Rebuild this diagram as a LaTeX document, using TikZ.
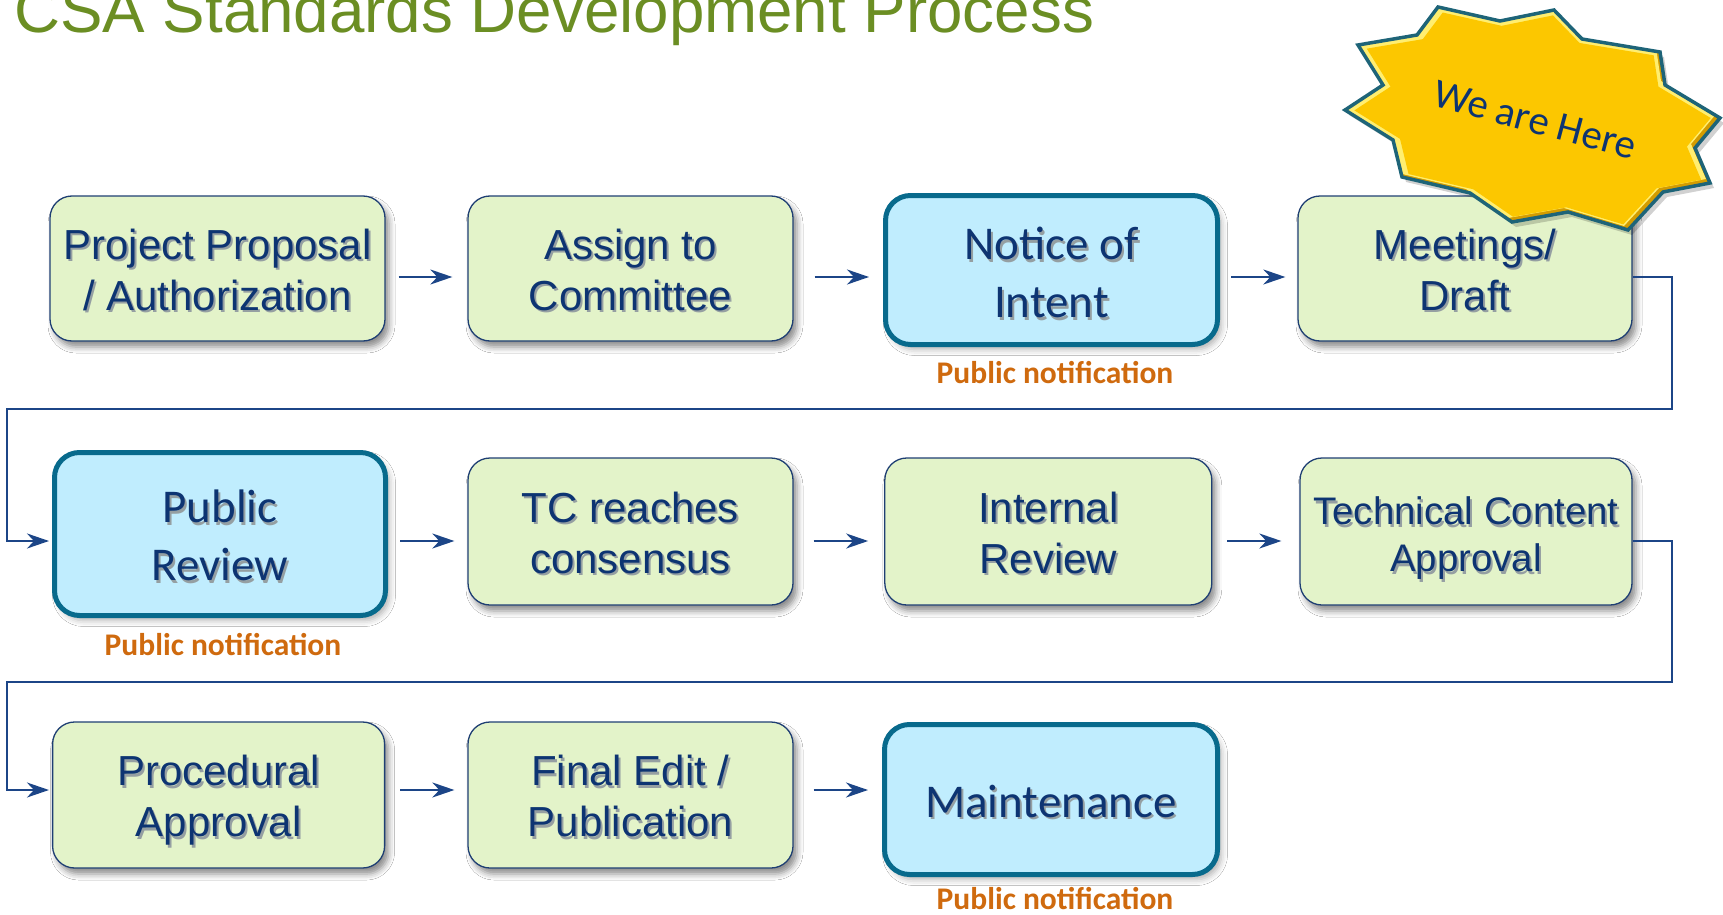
\documentclass[tikz,border=0pt]{standalone}
\usepackage{fontspec}
\setmainfont{Liberation Sans}
\newfontfamily\carlito{Carlito}
\usetikzlibrary{arrows.meta,shadows.blur}
\definecolor{titlec}{HTML}{6B8E23}
\definecolor{gfill}{HTML}{E3F3C9}
\definecolor{gborder}{HTML}{1F3F73}
\definecolor{bfill}{HTML}{C0EDFE}
\definecolor{bborder}{HTML}{086A8C}
\definecolor{txtc}{HTML}{0D3472}
\definecolor{txtsh}{HTML}{959FA2}
\definecolor{arrc}{HTML}{1C4587}
\definecolor{notec}{HTML}{CF6A0E}
\definecolor{starmain}{HTML}{FCC700}
\definecolor{starlight}{HTML}{FFEE70}
\definecolor{stardark}{HTML}{D49C00}
\definecolor{starborder}{HTML}{1E6478}
\newcommand\shtxt[2][7.5pt]{\raisebox{-#1}[\height][\depth]{\setbox0\hbox{\begin{tabular}{@{}c@{}}#2\end{tabular}}\rlap{\kern2pt\raisebox{-2.5pt}{\textcolor{txtsh}{\copy0}}}\box0}}
\def\starpath{(1358,45) -- (1417,35) -- (1438,7) -- (1500,21) -- (1554,10) -- (1582,39) -- (1660,52) -- (1665,85) -- (1720,118) -- (1695,148) -- (1710,183) -- (1663,192) -- (1628,230) -- (1568,212) -- (1512,222) -- (1470,193) -- (1402,177) -- (1393,140) -- (1345,110) -- (1383,85) -- cycle}
\tikzset{
  gbox/.style={draw=gborder, line width=1.3pt, fill=gfill, rounded corners=22pt, inner sep=0pt, text=txtc,
    font=\fontsize{42}{51}\selectfont,
    blur shadow={shadow xshift=4pt, shadow yshift=-6pt, shadow blur radius=6pt, shadow opacity=45}},
  bbox/.style={draw=bborder, line width=5pt, fill=bfill, rounded corners=25pt, inner sep=0pt, text=txtc,
    font=\carlito\fontsize{47}{58}\selectfont,
    blur shadow={shadow xshift=4pt, shadow yshift=-5pt, shadow blur radius=6pt, shadow opacity=30}},
  note/.style={text=notec, font=\carlito\bfseries\fontsize{31.5}{36}\selectfont, inner sep=0pt, anchor=base},
  arr/.style={draw=arrc, line width=2.3pt, -{Stealth[length=22pt,width=15pt,inset=7pt]}},
  elbow/.style={draw=arrc, line width=2.2pt, -{Stealth[length=22pt,width=15pt,inset=7pt]}, shorten >=3pt},
  ttl/.style={text=titlec, font=\fontsize{63.7}{70}\selectfont, inner sep=0pt, anchor=base west}
}
\begin{document}
\begin{tikzpicture}[x=1pt,y=-1pt]
\useasboundingbox (0,0) rectangle (1723,915);
\fill[white] (0,0) rectangle (1723,915);

\node[ttl] (title) at (14,32.5) {CSA Standards Development Process};

% row coordinates
\coordinate (r1) at (0,277);
\coordinate (r2) at (0,541);
\coordinate (r3) at (0,790);
\coordinate (rt1) at (1672,409);
\coordinate (lt1) at (7,409);
\coordinate (rt2) at (1672,682);
\coordinate (lt2) at (7,682);

% row 1
\node[gbox, minimum width=335pt, minimum height=145pt] (p1) at (217.5,268.5) {\shtxt{Project Proposal\\/ Authorization}};
\node[gbox, minimum width=325pt, minimum height=145pt] (p2) at (630.5,268.5) {\shtxt{Assign to\\Committee}};
\node[bbox, minimum width=332pt, minimum height=149pt] (p3) at (1051.5,270) {\shtxt[8.5pt]{Notice of\\Intent}};
\node[gbox, minimum width=334pt, minimum height=145pt] (p4) at (1465,268.5) {\shtxt{Meetings/\\Draft}};
\node[note] (n1) at (1055,383) {Public notification};

% row 2
\node[bbox, minimum width=331pt, minimum height=163pt] (q1) at (220,534) {\shtxt{Public\\Review}};
\node[gbox, minimum width=325pt, minimum height=147pt] (q2) at (630.5,531.5) {\shtxt{TC reaches\\consensus}};
\node[gbox, minimum width=327pt, minimum height=147pt] (q3) at (1048.3,531.5) {\shtxt{Internal\\Review}};
\node[gbox, minimum width=332pt, minimum height=147pt, font=\fontsize{38.4}{47}\selectfont] (q4) at (1466,531.5) {\shtxt[8.5pt]{Technical Content\\Approval}};
\node[note] (n2) at (223,655) {Public notification};

% row 3
\node[gbox, minimum width=332pt, minimum height=146pt] (s1) at (218.6,795) {\shtxt{Procedural\\Approval}};
\node[gbox, minimum width=325pt, minimum height=146pt] (s2) at (630.5,795) {\shtxt{Final Edit /\\Publication}};
\node[bbox, minimum width=333pt, minimum height=150pt] (s3) at (1051,799.5) {\shtxt{Maintenance}};
\node[note] (n3) at (1055,909) {Public notification};

% arrows row 1
\draw[arr, shorten <=13pt, shorten >=15pt] (p1.east |- r1) -- (p2.west |- r1);
\draw[arr, shorten <=21pt, shorten >=14pt] (p2.east |- r1) -- (p3.west |- r1);
\draw[arr, shorten <=11pt, shorten >=12pt] (p3.east |- r1) -- (p4.west |- r1);
% arrows row 2
\draw[arr, shorten <=12pt, shorten >=13pt] (q1.east |- r2) -- (q2.west |- r2);
\draw[arr, shorten <=20pt, shorten >=16pt] (q2.east |- r2) -- (q3.west |- r2);
\draw[arr, shorten <=15pt, shorten >=18pt] (q3.east |- r2) -- (q4.west |- r2);
% arrows row 3
\draw[arr, shorten <=15pt, shorten >=13pt] (s1.east |- r3) -- (s2.west |- r3);
\draw[arr, shorten <=20pt, shorten >=14pt] (s2.east |- r3) -- (s3.west |- r3);

% elbows
\draw[elbow] (p4.east |- r1) -| (rt1) -- (lt1) |- (q1.west |- r2);
\draw[elbow] (q4.east |- r2) -| (rt2) -- (lt2) |- (s1.west |- r3);

% star
\fill[black, opacity=0.18, shift={(4,5)}] \starpath;
\begin{scope}
  \clip \starpath;
  \fill[stardark] \starpath;
  \fill[starlight, shift={(-4,-4)}] \starpath;
  \begin{scope}[shift={(1533,118)}, scale=0.95, shift={(-1533,-118)}]
    \fill[starmain] \starpath;
  \end{scope}
\end{scope}
\draw[starborder, line width=3.5pt, line join=miter] \starpath;
\node[rotate=-15, text=txtc, inner sep=0pt, font=\carlito\fontsize{41}{48}\selectfont] (here) at (1535,120) {We are Here};
\end{tikzpicture}
\end{document}
